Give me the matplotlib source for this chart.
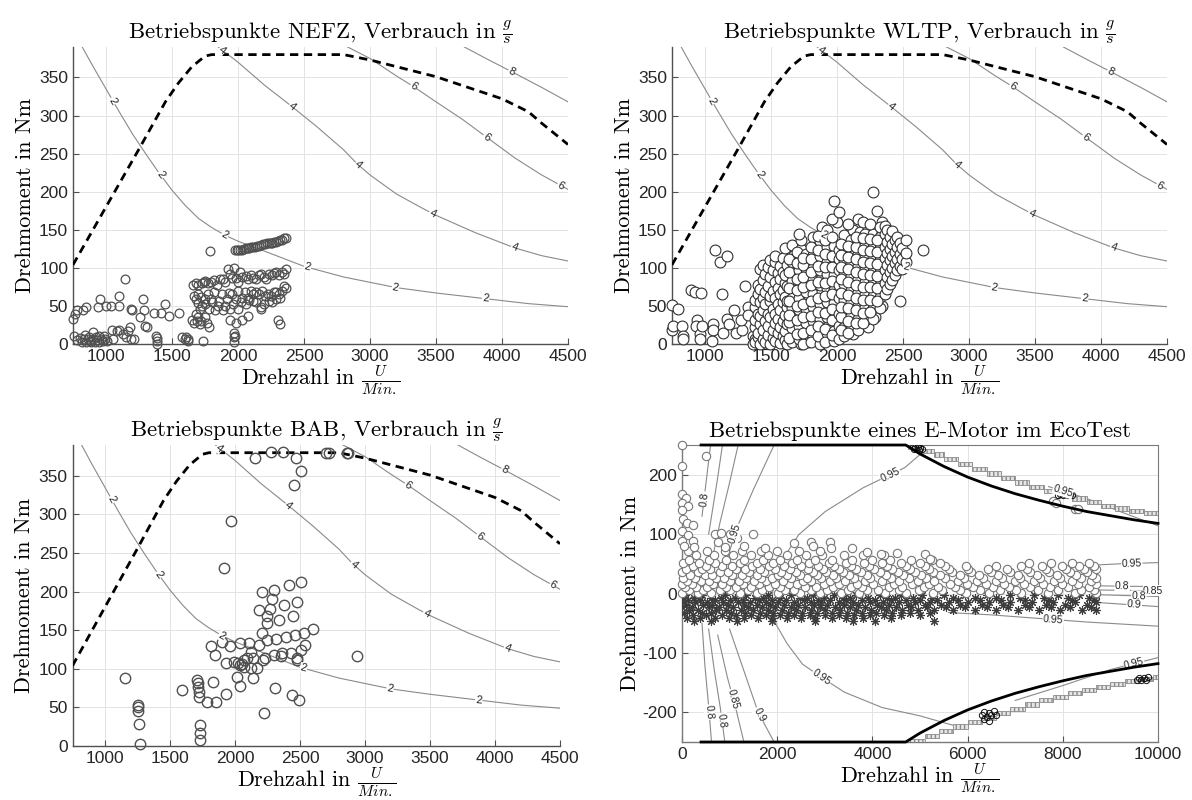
import numpy as np
import matplotlib.pyplot as plt

plt.rcParams['mathtext.fontset'] = 'cm'
plt.rcParams['axes.unicode_minus'] = False
plt.rcParams['axes.formatter.use_mathtext'] = False

SERIF = 'cmr10'
TICKFONT = ['Liberation Sans', 'DejaVu Sans']

# ---------------- engine map (same in NEFZ, WLTP, BAB) ----------------
full_load_rpm = [750, 1000, 1250, 1450, 1550, 1650, 1750, 1800, 2800, 3000, 3500, 4000, 4200, 4300, 4500]
full_load_nm = [104, 180, 256, 318, 343, 364, 378, 380, 380, 373, 351, 322, 305, 290, 262]

fuel2_rpm = [820, 900, 1000, 1100, 1200, 1300, 1400, 1500, 1600, 1700, 1800, 1900, 2000, 2200, 2500, 2800, 3000, 3200, 3500, 3900, 4200, 4500]
fuel2_nm = [390, 365, 335, 305, 276, 250, 225, 202, 182, 165, 153, 143, 135, 122, 102, 88, 81, 74, 67, 59, 53, 49]
fuel4_rpm = [1850, 2000, 2200, 2400, 2600, 2800, 2900, 3000, 3200, 3400, 3500, 3800, 4100, 4300, 4500]
fuel4_nm = [390, 370, 340, 313, 285, 255, 237, 222, 197, 178, 169, 146, 126, 116, 109]
fuel6_rpm = [2830, 3000, 3200, 3330, 3500, 3700, 3880, 4100, 4300, 4500]
fuel6_nm = [390, 375, 352, 338, 318, 295, 272, 244, 222, 203]
fuel8_rpm = [3715, 3900, 4080, 4300, 4500]
fuel8_nm = [390, 373, 357, 337, 318]

# ---------------- NEFZ operating points ----------------
nefz_points = [
    (760, 10), (780, 5), (800, 8), (815, 3), (830, 6), (845, 2), (860, 7), (875, 4), (890, 3), (905, 6),
    (920, 2), (935, 5), (950, 3), (965, 7), (980, 4), (995, 6), (840, 12), (900, 16), (950, 10), (1010, 4),
    (870, 9), (925, 9), (985, 11), (1050, 6), (1080, 17), (1100, 19), (1130, 13), (1150, 9), (1170, 17),
    (1185, 22), (1190, 6), (1045, 18),
    (750, 33), (765, 39), (780, 45), (823, 44), (852, 48), (953, 59), (939, 48), (1000, 50), (1041, 50),
    (1099, 50), (1099, 63), (1142, 86), (1186, 46), (1200, 44), (1279, 59), (1288, 44), (1297, 24),
    (1259, 35), (1310, 22), (1360, 41), (1419, 41), (1448, 52), (1477, 37), (1550, 41), (1215, 7),
    (1375, 11), (1384, 4), (1384, 0), (1390, 8), (1578, 9), (1607, 9), (1622, 7), (1622, 4), (1595, 6),
    (1791, 122), (1738, 4),
    (1651, 31), (1666, 28), (1709, 26), (1767, 28), (1782, 22), (1690, 30), (1750, 35),
    (1660, 78), (1680, 80), (1700, 78), (1724, 80), (1740, 82), (1753, 83), (1775, 80), (1796, 81),
    (1820, 84), (1840, 78), (1862, 86), (1884, 85), (1905, 82), (1927, 98), (1940, 92), (1956, 87),
    (1970, 100), (1985, 87), (2000, 81), (2015, 95), (2030, 88), (2058, 89), (2075, 85), (2095, 90),
    (2116, 87), (2135, 85), (2160, 90), (2174, 92), (2195, 88), (2215, 86), (2232, 92), (2255, 90),
    (2275, 93), (2291, 94), (2310, 91), (2335, 95), (2350, 92), (2363, 98),
    (1666, 63), (1680, 59), (1700, 66), (1720, 62), (1753, 59), (1775, 66), (1796, 59), (1820, 68),
    (1855, 57), (1880, 65), (1913, 59), (1935, 67), (1956, 65), (1985, 59), (2000, 70), (2029, 61),
    (2050, 68), (2072, 61), (2095, 70), (2116, 65), (2140, 68), (2160, 65), (2180, 70), (2203, 63),
    (2225, 66), (2247, 63), (2270, 68), (2291, 68), (2310, 65), (2334, 70), (2350, 76), (2363, 74),
    (1695, 54), (1709, 46), (1680, 39), (1725, 50), (1750, 52), (1782, 46), (1800, 55), (1825, 44),
    (1850, 50), (1884, 44), (1905, 50), (1942, 46), (1965, 53), (2000, 46), (2025, 55), (2058, 52),
    (2080, 58), (2116, 57), (2140, 55), (2174, 46), (2195, 52), (2232, 57), (2260, 55), (2291, 59),
    (2320, 61), (2174, 48),
    (2305, 31), (2320, 26), (1942, 31), (1985, 28), (2029, 31), (2072, 37), (1700, 35), (1720, 30),
    (1971, 15), (1971, 9), (1971, 2), (1977, 11),
    (1977, 123), (1990, 123), (2000, 123), (2015, 124), (2029, 124), (2045, 125), (2058, 126), (2072, 126),
    (2087, 126), (2100, 127), (2116, 127), (2130, 128), (2145, 129), (2160, 129), (2174, 130), (2190, 131),
    (2203, 131), (2218, 132), (2232, 132), (2247, 133), (2261, 133), (2276, 134), (2291, 134), (2305, 135),
    (2320, 136), (2335, 137), (2349, 139), (2363, 139),
]

# ---------------- WLTP operating points ----------------
wltp_outliers = [
    (750, 51), (793, 46), (750, 18), (759, 24), (822, 24), (836, 11), (836, 7), (893, 71), (922, 68),
    (973, 67), (936, 31), (930, 24), (965, 13), (965, 7), (979, 24), (1059, 26), (1059, 18), (1051, 4),
    (1079, 124), (1116, 108), (1165, 115), (1131, 66), (1137, 15), (1165, 33), (1179, 26), (1222, 44),
    (1237, 15), (1280, 18), (1271, 31), (1302, 76), (1323, 49), (1323, 38), (1366, 11), (1366, 0),
    (1380, 7), (2650, 124), (2480, 57),
]
wltp_cloud = [
    (1375, [3, 22, 31, 48, 58]),
    (1398, [9, 14, 40, 66, 78]),
    (1415, [0, 26, 37, 55, 72, 99]),
    (1440, [6, 19, 45, 61, 84, 104]),
    (1458, [2, 30, 52, 68, 92]),
    (1477, [12, 24, 40, 76, 101]),
    (1493, [0, 35, 57, 63, 88, 110]),
    (1515, [8, 18, 46, 70, 97]),
    (1532, [4, 27, 39, 60, 81, 108, 116]),
    (1551, [15, 33, 52, 74, 93]),
    (1570, [1, 22, 44, 66, 86, 102]),
    (1588, [10, 30, 55, 71, 95, 113]),
    (1605, [5, 17, 38, 62, 80, 91, 126]),
    (1622, [0, 26, 49, 57, 76, 104]),
    (1676, [12, 34, 42, 68, 87, 99, 117]),
    (1657, [3, 21, 47, 61, 83, 108, 130]),
    (1640, [8, 29, 38, 56, 73, 94, 112]),
    (1728, [0, 16, 33, 52, 66, 89, 101, 125, 137]),
    (1710, [6, 24, 44, 60, 79, 97, 116, 144]),
    (1694, [13, 31, 50, 71, 85, 106, 121]),
    (1781, [2, 19, 37, 57, 64, 92, 110]),
    (1763, [9, 27, 46, 68, 81, 99, 118]),
    (1745, [0, 14, 35, 53, 75, 88, 104, 113]),
    (1836, [6, 22, 41, 60, 72, 93, 108, 122]),
    (1818, [11, 30, 49, 66, 84, 100, 117, 141]),
    (1800, [3, 18, 37, 56, 77, 95, 112, 128]),
    (1890, [8, 26, 45, 62, 70, 89, 106, 121, 154]),
    (1872, [0, 15, 33, 52, 78, 97, 116, 135]),
    (1853, [11, 23, 42, 60, 82, 103, 124, 142]),
    (1943, [5, 29, 48, 67, 88, 99, 115, 131]),
    (1925, [14, 36, 55, 73, 92, 108, 127, 150]),
    (1908, [2, 20, 41, 63, 80, 101, 118, 137]),
    (1997, [9, 27, 50, 58, 86, 95, 112, 121, 160]),
    (1980, [4, 17, 35, 54, 71, 90, 106, 129, 188]),
    (1961, [12, 32, 46, 66, 83, 101, 116, 140, 164]),
    (2015, [7, 24, 39, 61, 77, 97, 111, 124, 173]),
    (2068, [14, 30, 52, 70, 87, 104, 119, 133]),
    (2050, [10, 22, 44, 58, 79, 94, 110, 128, 143]),
    (2033, [18, 35, 49, 67, 85, 101, 117, 131]),
    (2123, [13, 28, 42, 62, 76, 92, 108, 124, 150]),
    (2105, [20, 37, 55, 71, 89, 105, 120, 137]),
    (2087, [15, 30, 47, 64, 82, 99, 114, 129, 158]),
    (2178, [23, 40, 57, 74, 91, 107, 122, 147]),
    (2160, [19, 33, 50, 68, 85, 102, 118, 134, 164]),
    (2142, [27, 44, 61, 78, 95, 111, 127, 141]),
    (2233, [22, 37, 54, 72, 88, 104, 120, 136, 152]),
    (2215, [31, 48, 65, 81, 98, 114, 130, 145]),
    (2197, [28, 41, 58, 75, 92, 108, 124, 139, 160]),
    (2288, [36, 53, 70, 86, 102, 118, 133, 150]),
    (2270, [33, 47, 63, 80, 96, 113, 128, 144, 200]),
    (2252, [42, 58, 75, 91, 107, 122, 138, 157]),
    (2343, [50, 66, 82, 98, 114, 130, 146, 160]),
    (2325, [47, 62, 78, 94, 110, 126, 141, 153]),
    (2306, [57, 73, 89, 105, 121, 136, 175]),
    (2362, [66, 80, 97, 113, 128, 144, 155]),
    (2380, [72, 88, 104, 119, 134, 150]),
    (2398, [79, 95, 110, 125, 140]),
    (2417, [84, 100, 116, 131, 148]),
    (2436, [91, 106, 121, 137]),
    (2455, [97, 112, 127, 141]),
    (2475, [103, 118, 133]),
    (2495, [99, 112, 126]),
    (2520, [108, 120, 137]),
]

# ---------------- BAB operating points ----------------
bab_points = [
    (1266, 3), (1258, 29), (1252, 45), (1252, 51), (1252, 53), (1157, 88), (1592, 73), (1711, 86),
    (1717, 81), (1720, 70), (1725, 64), (1717, 77), (1734, 27), (1734, 17), (1734, 8), (1785, 57),
    (1829, 83), (1853, 57), (1814, 130), (1843, 118), (1903, 135), (1933, 108), (1963, 130), (1933, 68),
    (1912, 230), (1971, 291), (2013, 89), (2036, 78), (1992, 109), (2022, 107), (2036, 105), (2051, 106),
    (2036, 133), (2066, 111), (2096, 114), (2111, 133), (2125, 122), (2140, 114), (2125, 101), (2140, 88),
    (2155, 373), (2170, 101), (2184, 131), (2184, 176), (2208, 200), (2208, 146), (2220, 43), (2229, 114),
    (2243, 137), (2243, 168), (2249, 159), (2273, 178), (2279, 381), (2288, 191), (2297, 118), (2302, 202),
    (2308, 75), (2317, 139), (2338, 163), (2356, 116), (2362, 120), (2368, 381), (2377, 183), (2391, 141),
    (2412, 209), (2427, 120), (2436, 66), (2445, 168), (2460, 144), (2466, 373), (2457, 338), (2475, 187),
    (2475, 114), (2480, 111), (2495, 60), (2504, 356), (2504, 213), (2510, 124), (2533, 147), (2540, 131),
    (2599, 151), (2703, 380), (2724, 380), (2859, 379), (2871, 379), (2939, 117), (2214, 112), (2066, 103),
]

# ---------------- E-Motor (EcoTest) ----------------
emax_rpm = [400, 4700, 5000, 5500, 6000, 6500, 7000, 7500, 8000, 8500, 9000, 9500, 10000]
emax_nm = [250, 250, 235, 214, 196, 181, 168, 157, 147, 138, 131, 124, 118]
emin_nm = [-250, -250, -235, -214, -196, -181, -168, -157, -147, -138, -131, -124, -118]

# stepped limit (start rpm, end rpm, torque)
estep_top = [(4750, 5000, 247), (5000, 5300, 240), (5300, 5500, 234), (5500, 5800, 226), (5800, 6100, 218),
             (6100, 6400, 210), (6400, 6700, 202), (6700, 7000, 195), (7000, 7300, 187), (7300, 7600, 180),
             (7600, 7900, 173), (7900, 8200, 167), (8200, 8500, 160), (8500, 8800, 154), (8800, 9100, 148),
             (9100, 9400, 143), (9400, 9700, 139), (9700, 10000, 135)]
estep_bot = [(4750, 5100, -248), (5100, 5400, -240), (5400, 5700, -232), (5700, 6000, -224), (6000, 6300, -216),
             (6300, 6600, -209), (6600, 6900, -201), (6900, 7200, -194), (7200, 7500, -187), (7500, 7800, -180),
             (7800, 8100, -174), (8100, 8400, -168), (8400, 8700, -162), (8700, 9000, -157), (9000, 9300, -152),
             (9300, 9600, -148), (9600, 9900, -144), (9900, 10000, -140)]

# efficiency contours: (rpm list, nm list, level)
eff_lines = [
    ([600, 540, 480, 420], [250, 210, 170, 130], '0.8'),
    ([850, 740, 640, 560], [250, 190, 140, 100], '0.85'),
    ([1180, 980, 800, 640], [250, 180, 120, 60], '0.9'),
    ([1935, 1500, 1150, 880], [250, 175, 110, 40], '0.95'),
    ([420, 480, 560, 620], [-50, -120, -190, -250], '0.8'),
    ([560, 680, 800, 900], [-60, -130, -190, -250], '0.8'),
    ([750, 950, 1150, 1300], [-70, -140, -200, -250], '0.85'),
    ([1000, 1300, 1600, 1935], [-60, -130, -200, -250], '0.9'),
    ([5000, 4682, 3806, 3010, 2452, 2134, 1975, 1895, 1975, 2213, 2532, 2930, 3408, 4204, 5000, 5700],
     [234, 212, 178, 138, 99, 60, 27, -1, -52, -85, -119, -141, -166, -192, -206, -222], '0.95'),
    ([8700, 9200, 10000], [48, 50, 52], '0.95'),
    ([8700, 9500, 10000], [13, 12, 12], '0.8'),
    ([8700, 9500, 10000], [6, 5, 5], '0.85'),
    ([8700, 10000], [-2, -5], '0.8'),
    ([8700, 10000], [-15, -22], '0.9'),
    ([5600, 6500, 7500, 8500, 10000], [-32, -36, -42, -48, -55], '0.95'),
    ([7700, 8500, 9300, 10000], [180, 160, 135, 114], '0.95'),
    ([7000, 8000, 9000, 10000], [-180, -155, -128, -108], '0.95'),
]

eco_circ_rows = [
    (1, [0, 340, 610, 1220, 1570, 2010, 2480, 2890, 3330, 3710, 4260, 4710, 5280, 5960, 6440, 7120, 7690, 8250, 8700]),
    (6, [140, 450, 790, 1010, 1390, 1680, 2170, 2360, 2720, 3050, 3480, 3890, 4110, 4560, 4980, 5470, 5840, 6250,
         6690, 7020, 7480, 7900, 8390, 8650]),
    (11, [60, 290, 530, 920, 1130, 1460, 1830, 2060, 2590, 2810, 3180, 3560, 3790, 4340, 4620, 5090, 5380, 5730,
          6110, 6530, 6880, 7310, 7740, 8100, 8540]),
    (16, [0, 210, 660, 840, 1290, 1610, 1950, 2240, 2420, 2990, 3290, 3680, 4010, 4450, 4830, 5190, 5620, 5990,
          6390, 6760, 7190, 7580, 7980, 8310, 8700]),
    (21, [110, 390, 560, 1000, 1190, 1520, 1760, 2120, 2540, 2700, 3110, 3420, 3850, 4200, 4560, 4950, 5300,
          5790, 6190, 6600, 7000, 7400, 7820, 8200, 8600]),
    (26, [30, 270, 720, 880, 1350, 1660, 1890, 2300, 2620, 2930, 3240, 3620, 3940, 4390, 4760, 5120, 5520,
          5930, 6320, 6720, 7110, 7530, 7950, 8380, 8700]),
    (31, [170, 480, 620, 1060, 1250, 1580, 2010, 2200, 2480, 2840, 3180, 3510, 3880, 4280, 4640, 5030, 5420,
          5850, 6240, 6640, 7060, 7460, 7880, 8270, 8620]),
    (36, [0, 330, 790, 960, 1410, 1730, 2080, 2390, 2760, 3030, 3380, 3750, 4150, 4530, 4890, 5280, 5680,
          6080, 6500, 6900, 7320, 7720, 8150, 8500]),
    (41, [90, 420, 580, 1130, 1320, 1640, 1960, 2270, 2640, 2960, 3300, 3660, 4040, 4420, 4800, 5190, 5600,
          6010, 6420, 6830, 7240, 7650, 8060, 8450, 8700]),
    (46, [230, 510, 850, 1040, 1480, 1830, 2150, 2500, 2860, 3200, 3550, 3930, 4310, 4700, 5100, 5520, 5960,
          6600, 7130, 7560, 7990, 8330, 8650]),
    (51, [20, 360, 700, 1210, 1570, 1920, 2310, 2670, 3080, 3440, 3830, 4200, 4600, 5000, 5420, 7300, 7760,
          8200, 8560]),
    (57, [150, 560, 930, 1300, 1700, 2050, 2420, 2790, 3160, 3570, 3990, 4380, 4820, 5250]),
    (64, [300, 680, 1080, 1450, 1810, 2200, 2600, 2950, 3400, 3800, 4250]),
    (71, [120, 520, 900, 1250, 1650, 2000, 2450, 2900]),
]
eco_circ_extra = [
    (0, 250), (0, 215), (500, 232), (0, 168), (80, 160), (0, 152), (130, 148), (0, 140), (20, 125), (100, 118),
    (230, 115), (0, 105), (120, 98), (0, 88), (230, 88), (40, 80), (260, 78), (700, 100), (820, 102), (760, 86),
    (1000, 100), (1150, 94), (1500, 100), (900, 78), (1300, 80), (1750, 76), (2350, 85), (2720, 86), (2760, 80),
    (3100, 86), (3120, 76), (3580, 76), (3880, 70), (4180, 66), (4520, 68), (5100, 66), (5200, 58),
    (7800, 155), (7850, 152), (8250, 142), (8320, 143),
]
eco_ast_rows = [
    (-3, [60, 420, 900, 1350, 1800, 2300, 2750, 3200, 3650, 4150, 4600, 5050, 5500, 5950, 6400, 6900, 7400,
          7900, 8350, 8700]),
    (-7, [0, 250, 610, 820, 1120, 1530, 1700, 2050, 2480, 2620, 2980, 3390, 3520, 3900, 4310, 4480, 4850,
          5250, 5700, 6150, 6600, 7100, 7600, 8100, 8550]),
    (-11, [130, 380, 700, 1000, 1280, 1610, 1900, 2190, 2560, 2850, 3100, 3450, 3780, 4050, 4400, 4700,
           5000, 5350, 5800, 6250, 6700, 7200, 7700, 8200, 8650]),
    (-15, [0, 270, 520, 860, 1180, 1420, 1760, 2020, 2350, 2700, 2930, 3300, 3600, 3950, 4220, 4560, 4900,
           5200, 5600, 6000, 6450, 6900, 7350, 7800, 8250, 8700]),
    (-19, [90, 450, 640, 960, 1300, 1580, 1850, 2150, 2440, 2780, 3050, 3400, 3700, 4100, 4350, 4750, 5100,
           5450, 5850, 6300, 6750, 7200, 7650, 8050, 8500]),
    (-23, [0, 200, 560, 780, 1080, 1380, 1690, 1960, 2280, 2580, 2900, 3220, 3520, 3850, 4180, 4500, 4820,
           5150, 5550, 5950, 6400, 6850, 7300, 7750, 8150, 8600]),
    (-27, [150, 340, 720, 920, 1230, 1500, 1800, 2100, 2400, 2700, 3000, 3320, 3650, 3980, 4280, 4620, 4950,
           5300, 5700, 6150, 6600, 7050, 7500, 7950, 8400, 8700]),
    (-32, [40, 420, 600, 1020, 1330, 1640, 1920, 2220, 2520, 2840, 3150, 3470, 3780, 4080, 4420, 4780, 5200]),
    (-37, [230, 510, 840, 1130, 1440, 1760, 2060, 2350, 2680, 3000, 3300, 3620, 3950, 4250, 4600, 5000]),
    (-42, [100, 380, 700, 980, 1300, 1600, 1900, 2200, 2500, 2800, 3150, 3450, 3800, 4400]),
    (-47, [250, 600, 1150, 1900, 2800, 3600, 4050, 5300]),
]
eco_black = [
    (4850, 247), (4900, 246), (4950, 247), (5000, 245), (5050, 244), (4880, 243), (4970, 241),
    (7900, 165), (7950, 168), (8000, 166), (8050, 167), (8100, 165), (8150, 168), (8200, 166),
    (6300, -205), (6350, -200), (6400, -208), (6450, -202), (6500, -205), (6550, -198), (6600, -204),
    (6350, -212), (6450, -215),
    (9550, -145), (9600, -143), (9650, -146), (9700, -142), (9750, -145), (9800, -140),
]


def line_label(ax, xs, ys, near, text, fs=8):
    # rotated label sitting on the polyline, at the point closest to `near`
    pts = ax.transData.transform(np.column_stack([xs, ys]))
    q = ax.transData.transform([near])[0]
    best = None
    for i in range(len(pts) - 1):
        a, b = pts[i], pts[i + 1]
        d = b - a
        t = np.clip(np.dot(q - a, d) / max(np.dot(d, d), 1e-9), 0, 1)
        p = a + t * d
        dist = np.hypot(*(q - p))
        if best is None or dist < best[0]:
            best = (dist, p, d)
    _, p, d = best
    ang = np.degrees(np.arctan2(d[1], d[0]))
    if ang > 90:
        ang -= 180
    if ang < -90:
        ang += 180
    x, y = ax.transData.inverted().transform(p)
    ax.text(x, y, text, rotation=ang, rotation_mode='anchor', ha='center', va='center',
            fontsize=fs, color='#202020', family=TICKFONT, zorder=6,
            bbox=dict(fc='white', ec='none', pad=0.4))


def style_axes(ax, box=False):
    ax.grid(True, color='#e3e3e3', lw=0.7)
    ax.set_axisbelow(True)
    for s in ['left', 'bottom']:
        ax.spines[s].set_color('#505050')
        ax.spines[s].set_linewidth(1.0)
    for s in ['top', 'right']:
        ax.spines[s].set_visible(box)
        ax.spines[s].set_color('#808080')
    ax.tick_params(direction='in', length=4, width=0.8, color='#505050',
                   labelsize=12.5, labelcolor='#262626')
    for lab in ax.get_xticklabels() + ax.get_yticklabels():
        lab.set_family(TICKFONT)


def set_texts(ax, title):
    ax.set_title(title, family=SERIF, fontsize=16.5, pad=6)
    ax.set_xlabel(r'Drehzahl in $\frac{U}{Min.}$', family=SERIF, fontsize=16, labelpad=0)
    ax.set_ylabel('Drehmoment in Nm', family=SERIF, fontsize=16, labelpad=3)


def engine_panel(ax, px, py, title, mfc, mec, ms, mew):
    ax.set_xlim(750, 4500)
    ax.set_ylim(0, 390)
    ax.set_xticks([1000, 1500, 2000, 2500, 3000, 3500, 4000, 4500])
    ax.set_yticks([0, 50, 100, 150, 200, 250, 300, 350])
    style_axes(ax)
    for rx, ry in [(fuel2_rpm, fuel2_nm), (fuel4_rpm, fuel4_nm), (fuel6_rpm, fuel6_nm), (fuel8_rpm, fuel8_nm)]:
        ax.plot(rx, ry, color='#8a8a8a', lw=0.8, zorder=2)
    ax.plot(full_load_rpm, full_load_nm, color='black', lw=2.0, ls='--', dashes=(3, 2), zorder=3)
    ax.plot(px, py, ls='none', marker='o', ms=ms, mfc=mfc, mec=mec, mew=mew, zorder=4, clip_on=False)
    for near in [(1061, 320), (1413, 222), (1900, 143), (2523, 99), (3192, 74), (3875, 59)]:
        line_label(ax, fuel2_rpm, fuel2_nm, near, '2')
    for near in [(1880, 386), (2413, 312), (2901, 233), (3468, 170), (4093, 126)]:
        line_label(ax, fuel4_rpm, fuel4_nm, near, '4')
    for near in [(3331, 338), (3884, 272), (4442, 207)]:
        line_label(ax, fuel6_rpm, fuel6_nm, near, '6')
    line_label(ax, fuel8_rpm, fuel8_nm, (4078, 359), '8')
    set_texts(ax, title)


fig = plt.figure(figsize=(11.92, 8.0), dpi=100)
W, H = 1192.0, 800.0
ax1 = fig.add_axes([73 / W, 1 - 344 / H, 495 / W, 297 / H])
ax2 = fig.add_axes([672 / W, 1 - 344 / H, 495 / W, 297 / H])
ax3 = fig.add_axes([72.5 / W, 1 - 746 / H, 487.5 / W, 301 / H])
ax4 = fig.add_axes([682 / W, 1 - 742 / H, 476 / W, 297 / H])

nefz = np.array(nefz_points)
engine_panel(ax1, nefz[:, 0], nefz[:, 1], r'Betriebspunkte NEFZ, Verbrauch in $\frac{g}{s}$',
             'none', '#505050', 6.3, 0.9)

wl = list(wltp_outliers)
for cx, cys in wltp_cloud:
    wl += [(cx, cy) for cy in cys]
wl = np.array(wl)
engine_panel(ax2, wl[:, 0], wl[:, 1], r'Betriebspunkte WLTP, Verbrauch in $\frac{g}{s}$',
             'white', '#303030', 7.8, 0.8)

bab = np.array(bab_points)
engine_panel(ax3, bab[:, 0], bab[:, 1], r'Betriebspunkte BAB, Verbrauch in $\frac{g}{s}$',
             'none', '#505050', 7.5, 1.0)

# ---------------- E-Motor panel ----------------
ax = ax4
ax.set_xlim(0, 10000)
ax.set_ylim(-250, 250)
ax.set_xticks([0, 2000, 4000, 6000, 8000, 10000])
ax.set_yticks([-200, -100, 0, 100, 200])
style_axes(ax, box=True)
for s in ax.spines.values():
    s.set_color('#7a7a7a')

for rx, ry, lvl in eff_lines:
    ax.plot(rx, ry, color='#8a8a8a', lw=0.8, zorder=2)

for x0, x1, y in estep_top + estep_bot:
    ax.barh(y, x1 - x0, left=x0, height=7, color='#e6e6e6', edgecolor='#8a8a8a',
            hatch='||||', lw=0.6, zorder=3)

ast_x, ast_y = [], []
for y, xs in eco_ast_rows:
    ast_x += xs
    ast_y += [y] * len(xs)
ax.plot(ast_x, ast_y, ls='none', marker=(8, 2, 0), ms=6.5, mec='#3c3c3c', mew=0.8, zorder=4)

cx_, cy_ = [], []
for y, xs in eco_circ_rows:
    cx_ += xs
    cy_ += [y] * len(xs)
ce = np.array(eco_circ_extra)
cx_ += list(ce[:, 0])
cy_ += list(ce[:, 1])
ax.plot(cx_, cy_, ls='none', marker='o', ms=6, mfc='white', mec='#777777', mew=0.8, zorder=5, clip_on=False)

eb = np.array(eco_black)
ax.plot(eb[:, 0], eb[:, 1], ls='none', marker='o', ms=4.5, mfc='none', mec='#101010', mew=0.7, zorder=6)

ax.plot(emax_rpm, emax_nm, color='black', lw=2.0, zorder=7, clip_on=False)
ax.plot(emax_rpm, emin_nm, color='black', lw=2.0, zorder=7, clip_on=False)

# where each contour carries its label (empty: unlabelled in the original)
eff_label_pos = [
    [(557, 158)], [], [], [(621, 113)],
    [(520, -200)], [(720, -215)], [(1000, -180)], [(1577, -206)],
    [(4300, 212), (2930, -141)],
    [(9450, 50)], [(9250, 12)], [(9900, 5)], [(9600, -3)], [(9500, -19)],
    [(7800, -43)],
    [(8000, 172)], [(9500, -120)],
]
for (rx, ry, lvl), poss in zip(eff_lines, eff_label_pos):
    for near in poss:
        line_label(ax, rx, ry, near, lvl, fs=7.5)

set_texts(ax, 'Betriebspunkte eines E-Motor im EcoTest')
ax.yaxis.labelpad = 2

fig.savefig('out.png', dpi=100)
